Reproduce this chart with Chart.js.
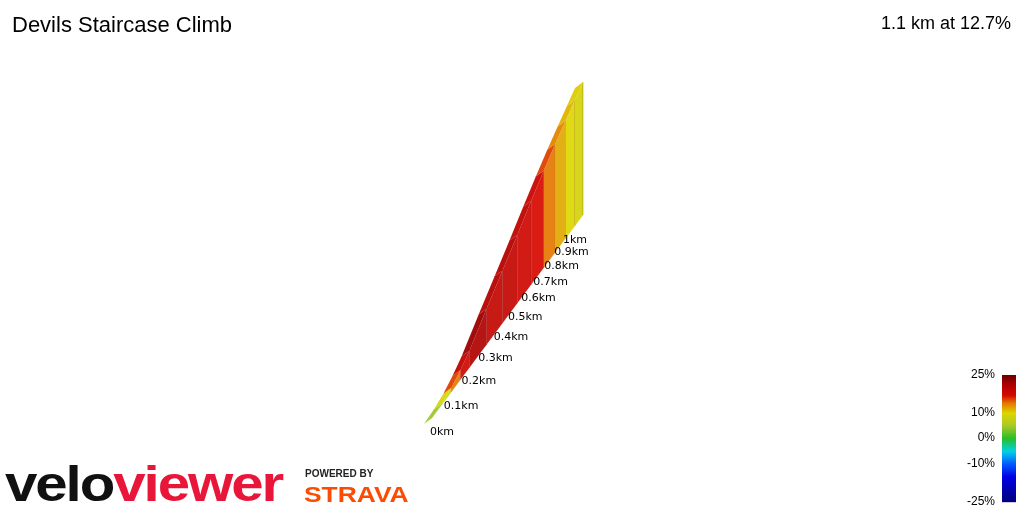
<!DOCTYPE html>
<html><head><meta charset="utf-8">
<script src="https://cdn.jsdelivr.net/npm/chart.js@4/dist/chart.umd.min.js"></script>
<style>html,body{margin:0;padding:0;background:#fff}#w{position:relative;width:1024px;height:512px}</style>
</head><body><div id="w"><canvas id="c" width="1024" height="512"></canvas></div>
<script>
const title = "Devils Staircase Climb";
const summary = "1.1 km at 12.7%";
const distances = [0,0.05,0.1,0.15,0.2,0.3,0.4,0.5,0.6,0.7,0.8,0.9,1.0,1.1];
const elevations = [0,1.5,5.5,12.5,21.5,45.5,66.5,86.5,105.5,122.5,136.5,148.5,158.5,167.5];
const gradients = [3,8,14,18,21,19,19,18,17,14,12,10,9];
const kmTicks = [0,0.1,0.2,0.3,0.4,0.5,0.6,0.7,0.8,0.9,1];
const kmLabels = ["0km","0.1km","0.2km","0.3km","0.4km","0.5km","0.6km","0.7km","0.8km","0.9km","1km"];
const legendTicks = [25,10,0,-10,-25];
const legendLabels = ["25%","10%","0%","-10%","-25%"];
const total = 1.1, persp = 0.45;
const proj = d => { const t=d/total; return total*((1+persp)*t-persp*t*t); };

function gradColor(g,a){
  const stops=[[-25,[0,0,120]],[-15,[0,0,230]],[-10,[0,90,255]],[-5,[0,210,230]],[0,[40,190,40]],[5,[170,200,40]],[10,[220,215,0]],[14,[228,120,0]],[17,[215,10,0]],[22,[165,0,0]],[25,[110,0,0]]];
  if(g<=stops[0][0]) return `rgba(${stops[0][1]},${a})`;
  for(let i=1;i<stops.length;i++){ if(g<=stops[i][0]){const [g0,c0]=stops[i-1],[g1,c1]=stops[i];const t=(g-g0)/(g1-g0);
    const c=c0.map((v,k)=>Math.round(v+(c1[k]-v)*t));return `rgba(${c.join(',')},${a})`;}}
  return `rgba(${stops[stops.length-1][1]},${a})`;
}

const climbPlugin={id:'climb',afterDatasetsDraw(chart){
  const ctx=chart.ctx, xs=chart.scales.x, ys=chart.scales.y;
  const x0=xs.getPixelForValue(0), x1=xs.getPixelForValue(total);
  const baseY=px=>418-(px-x0)*(203/(x1-x0));
  const pts=distances.map((d,i)=>{const px=xs.getPixelForValue(proj(d));const by=baseY(px);
    return {x:px,by:by,ty:by-(ys.getPixelForValue(0)-ys.getPixelForValue(elevations[i]))};});
  ctx.save();
  ctx.fillStyle='rgba(190,190,190,0.8)';
  ctx.beginPath();ctx.moveTo(pts[0].x-2,pts[0].by+3);ctx.lineTo(pts[pts.length-1].x-2,pts[pts.length-1].by+3);
  ctx.lineTo(pts[pts.length-1].x,pts[pts.length-1].by);ctx.lineTo(pts[0].x,pts[0].by);ctx.closePath();ctx.fill();
  for(let i=0;i<gradients.length;i++){
    const a=pts[i],b=pts[i+1];
    ctx.fillStyle=gradColor(gradients[i],0.92);
    ctx.beginPath();ctx.moveTo(a.x,a.by);ctx.lineTo(b.x,b.by);ctx.lineTo(b.x,b.ty);ctx.lineTo(a.x,a.ty);ctx.closePath();ctx.fill();
    ctx.strokeStyle='rgba(90,0,0,0.25)';ctx.lineWidth=1;
    ctx.beginPath();ctx.moveTo(b.x,b.by);ctx.lineTo(b.x,b.ty);ctx.stroke();
    ctx.fillStyle=gradColor(gradients[i]+1.5,0.95);
    ctx.beginPath();ctx.moveTo(a.x,a.ty);ctx.lineTo(b.x,b.ty);ctx.lineTo(b.x-8,b.ty+6);ctx.lineTo(a.x-8,a.ty+6);ctx.closePath();ctx.fill();
  }
  ctx.fillStyle='#000';ctx.font='11px "DejaVu Sans"';ctx.textAlign='left';ctx.textBaseline='middle';
  kmTicks.forEach((d,i)=>{const px=xs.getPixelForValue(proj(d));const by=baseY(px);ctx.fillText(kmLabels[i],px-2-(d>0?5+5*d:0),by+14);});
  const lx=1002,lw=14,lt=375,lb=502;
  const ly=g=>g>=0? lt+(25-g)/25*(438-lt) : 438+(-g)/25*(lb-438);
  for(let y=lt;y<lb;y++){
    let g; if(y<=438) g=25-(y-lt)/(438-lt)*25; else g=-(y-438)/(lb-438)*25;
    ctx.fillStyle=gradColor(g,1);ctx.fillRect(lx,y,lw,1.2);
  }
  ctx.textAlign='right';ctx.font='12px "Liberation Sans"';ctx.fillStyle='#000';
  legendTicks.forEach((g,i)=>ctx.fillText(legendLabels[i],995,ly(g)));
  ctx.textAlign='left';ctx.textBaseline='alphabetic';ctx.font='22px "Liberation Sans"';ctx.fillText(title,12,32);
  ctx.textAlign='right';ctx.font='18px "Liberation Sans"';ctx.fillText(summary,1011,29);
  ctx.textAlign='left';ctx.font='bold 56px "Liberation Sans"';
  ctx.save();ctx.translate(5,501);ctx.scale(1.04,0.9);ctx.letterSpacing='-2px';
  ctx.fillStyle='#111';ctx.fillText('velo',0,0);const w=ctx.measureText('velo').width;
  ctx.fillStyle='#e8173a';ctx.fillText('viewer',w,0);ctx.restore();
  ctx.fillStyle='#222';ctx.font='bold 10px "Liberation Sans"';ctx.fillText('POWERED BY',305,477);
  ctx.save();ctx.translate(304,502);ctx.scale(1.2,1);
  ctx.fillStyle='#fc4c02';ctx.font='bold 22px "Liberation Sans"';ctx.fillText('STRAVA',0,0);ctx.restore();
  ctx.restore();
}};

new Chart(document.getElementById('c'),{
  type:'line',
  data:{datasets:[{data:distances.map((d,i)=>({x:proj(d),y:elevations[i]})),borderWidth:0,pointRadius:0,showLine:false}]},
  options:{responsive:false,animation:false,
    layout:{padding:{left:432,right:441,top:82,bottom:297}},
    plugins:{legend:{display:false},tooltip:{enabled:false},title:{display:false}},
    scales:{x:{type:'linear',min:0,max:total,display:false},y:{min:0,max:167.5,display:false}}},
  plugins:[climbPlugin]
});
</script></body></html>
